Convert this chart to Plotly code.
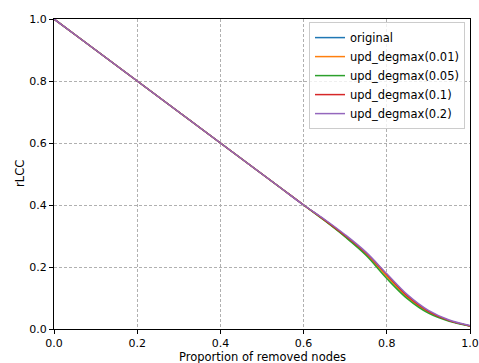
import plotly.graph_objects as go

x_vals = [0.0, 0.05, 0.1, 0.15, 0.2, 0.25, 0.3, 0.35, 0.4, 0.45, 0.5, 0.55, 0.6,
          0.65, 0.7, 0.75, 0.8, 0.85, 0.9, 0.95, 1.0]

original = [1.0, 0.95, 0.9, 0.85, 0.8, 0.75, 0.7, 0.65, 0.6, 0.55, 0.5, 0.45, 0.4,
            0.352, 0.300, 0.243, 0.172, 0.104, 0.056, 0.027, 0.01]
upd_001 = [1.0, 0.95, 0.9, 0.85, 0.8, 0.75, 0.7, 0.65, 0.6, 0.55, 0.5, 0.45, 0.4,
           0.351, 0.299, 0.241, 0.170, 0.102, 0.055, 0.027, 0.01]
upd_005 = [1.0, 0.95, 0.9, 0.85, 0.8, 0.75, 0.7, 0.65, 0.6, 0.55, 0.5, 0.45, 0.4,
           0.350, 0.297, 0.238, 0.163, 0.097, 0.051, 0.025, 0.01]
upd_01 = [1.0, 0.95, 0.9, 0.85, 0.8, 0.75, 0.7, 0.65, 0.6, 0.55, 0.5, 0.45, 0.4,
          0.352, 0.301, 0.245, 0.176, 0.106, 0.057, 0.027, 0.01]
upd_02 = [1.0, 0.95, 0.9, 0.85, 0.8, 0.75, 0.7, 0.65, 0.6, 0.55, 0.5, 0.45, 0.4,
          0.354, 0.304, 0.248, 0.178, 0.110, 0.060, 0.029, 0.011]

series_names = ["original", "upd_degmax(0.01)", "upd_degmax(0.05)",
                "upd_degmax(0.1)", "upd_degmax(0.2)"]
series_values = [original, upd_001, upd_005, upd_01, upd_02]
colors = ["#1f77b4", "#ff7f0e", "#2ca02c", "#d62728", "#9467bd"]

tick_vals = [0.0, 0.2, 0.4, 0.6, 0.8, 1.0]
x_title = "Proportion of removed nodes"
y_title = "rLCC"

fig = go.Figure()
for name, vals, c in zip(series_names, series_values, colors):
    fig.add_trace(go.Scatter(x=x_vals, y=vals, mode="lines", name=name,
                             line=dict(color=c, width=1.5, shape="spline", smoothing=1.0)))

axis_common = dict(
    range=[0, 1], tickvals=tick_vals, tickformat=".1f", automargin=False,
    showline=True, linecolor="black", linewidth=1, mirror=True,
    ticks="outside", ticklen=4, tickcolor="black", tickwidth=1,
    showgrid=True, gridcolor="#b0b0b0", griddash="3px,2px", gridwidth=0.8,
    zeroline=False, tickfont=dict(size=11, color="black"),
)

fig.update_xaxes(**axis_common)
fig.update_yaxes(**axis_common)

fig.add_annotation(text=x_title, xref="paper", yref="paper", x=0.5, y=0,
                   xanchor="center", yanchor="middle", yshift=-28, showarrow=False,
                   font=dict(size=11.5, color="black"))
fig.add_annotation(text=y_title, xref="paper", yref="paper", x=0, y=0.5,
                   xanchor="center", yanchor="middle", xshift=-34, textangle=-90,
                   showarrow=False, font=dict(size=11.5, color="black"))

fig.update_layout(
    width=479, height=363,
    margin=dict(l=54, r=9, t=19, b=34),
    paper_bgcolor="white", plot_bgcolor="white",
    font=dict(family="DejaVu Sans", size=11.5, color="black"),
    legend=dict(x=0.988, y=0.99, xanchor="right", yanchor="top",
                bgcolor="rgba(255,255,255,0.8)", bordercolor="#cccccc", borderwidth=1,
                font=dict(size=11.5), tracegroupgap=0),
    showlegend=True,
)

fig.write_html("out.html", config={"displayModeBar": False},
               post_script="document.body.style.margin='0';")
